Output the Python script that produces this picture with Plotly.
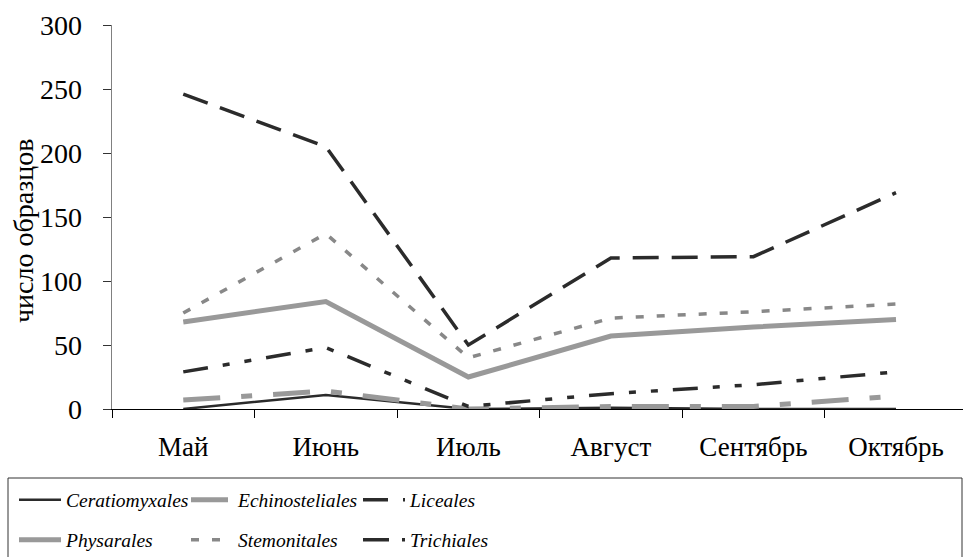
import plotly.graph_objects as go

months = ["Май", "Июнь", "Июль", "Август", "Сентябрь", "Октябрь"]

ceratiomyxales = [0, 11, 0, 1, 0, 0]
echinosteliales = [7, 14, 0, 2, 2, 10]
liceales = [29, 48, 2, 12, 19, 29]
physarales = [68, 84, 25, 57, 64, 70]
stemonitales = [75, 137, 40, 71, 76, 82]
trichiales = [246, 205, 50, 118, 119, 169]

y_ticks = [0, 50, 100, 150, 200, 250, 300]

W, H = 963, 557
L, R, T, B = 112, 0, 25, 148
pw, ph = W - L - R, H - T - B


def px_x(x):
    return (x - L) / pw


def px_y(y):
    return (H - B - y) / ph


FONT = "Liberation Serif"

series = [
    ("Ceratiomyxales", ceratiomyxales, "#2b2b2b", 2.5, "solid", "legend"),
    ("Echinosteliales", echinosteliales, "#999999", 5, "37px,21px,11px,21px", "legend"),
    ("Liceales", liceales, "#2b2b2b", 3.5, "25px,15px,7px,15px,7px,15px", "legend"),
    ("Physarales", physarales, "#999999", 5, "solid", "legend2"),
    ("Stemonitales", stemonitales, "#888888", 3.5, "8px,13px", "legend2"),
    ("Trichiales", trichiales, "#2b2b2b", 3.5, "26px,13px", "legend2"),
]

fig = go.Figure()
for name, vals, color, width, dash, lg in series:
    fig.add_trace(go.Scatter(
        x=months, y=vals, name=name, mode="lines",
        line=dict(color=color, width=width, dash=dash),
        legend=lg,
    ))

legend_common = dict(
    orientation="h", x=px_x(14), xanchor="left", yanchor="middle",
    entrywidth=115, entrywidthmode="pixels", itemwidth=42,
    font=dict(family=FONT, size=19.5, style="italic"),
    bgcolor="rgba(0,0,0,0)", traceorder="normal",
)

fig.update_layout(
    width=W, height=H,
    margin=dict(l=L, r=R, t=T, b=B, pad=0, autoexpand=False),
    paper_bgcolor="white", plot_bgcolor="white",
    font=dict(family=FONT, size=24, color="black"),
    showlegend=True,
    hovermode=False,
    legend=dict(legend_common, y=px_y(500)),
    legend2=dict(legend_common, y=px_y(540)),
    xaxis=dict(
        type="category", range=[-0.5, 5.47],
        showline=True, linecolor="black", linewidth=1,
        ticks="outside", tickson="boundaries", ticklen=8, tickcolor="black",
        ticklabelstandoff=14,
        showgrid=False, zeroline=False,
        tickfont=dict(family=FONT, size=27),
    ),
    yaxis=dict(
        range=[0, 300], tickvals=y_ticks,
        showline=True, linecolor="#808080", linewidth=1.5,
        ticks="outside", ticklen=8, tickcolor="#333333",
        ticklabelstandoff=15,
        showgrid=False, zeroline=False,
        tickfont=dict(family=FONT, size=28),
    ),
    shapes=[dict(
        type="rect", xref="paper", yref="paper",
        x0=px_x(8), x1=px_x(962), y0=px_y(478), y1=px_y(580),
        line=dict(color="#333333", width=1), fillcolor="rgba(0,0,0,0)", layer="below",
    )],
    annotations=[dict(
        text="число образцов", xref="paper", yref="paper",
        x=px_x(24), y=px_y(231), xanchor="center", yanchor="middle",
        textangle=-90, showarrow=False, font=dict(family=FONT, size=28),
    )],
)

fig.write_html(
    "out.html",
    config={"displayModeBar": False, "staticPlot": True},
    post_script="document.body.style.margin='0';",
)
